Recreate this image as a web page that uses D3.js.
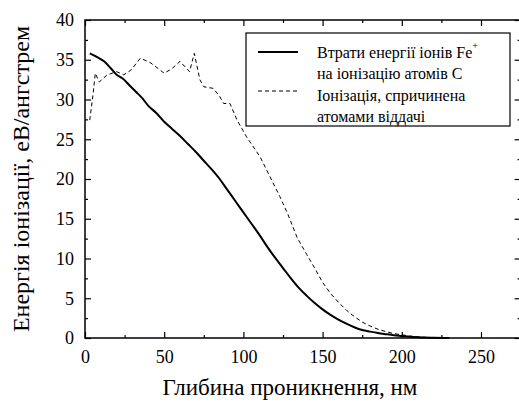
<!DOCTYPE html>
<html>
<head>
<meta charset="utf-8">
<script src="https://cdn.jsdelivr.net/npm/d3@7"></script>
<style>
  html, body { margin: 0; padding: 0; background: #fff; }
  svg { display: block; }
</style>
</head>
<body>
<svg id="chart" width="519" height="403" font-family="Liberation Serif, Times New Roman, DejaVu Serif, serif"></svg>
<script>
// Ionization energy loss vs. penetration depth (nm), eV/Å
const depthIon = [3, 8, 12, 16, 20, 24, 28, 32, 36, 40, 45, 50, 55, 60, 65, 70, 75, 80, 85, 90, 95, 100, 105, 110, 115, 120, 125, 130, 135, 140, 145, 150, 155, 160, 165, 170, 175, 180, 185, 190, 195, 200, 205, 210, 220, 230];
const energyIon = [35.8, 35.3, 34.8, 34.0, 33.1, 32.6, 31.8, 31.0, 30.2, 29.2, 28.3, 27.2, 26.3, 25.4, 24.4, 23.4, 22.3, 21.2, 20.0, 18.6, 17.2, 15.8, 14.4, 13.0, 11.5, 10.1, 8.8, 7.5, 6.3, 5.3, 4.4, 3.6, 2.9, 2.3, 1.8, 1.35, 1.0, 0.8, 0.62, 0.48, 0.35, 0.25, 0.15, 0.08, 0.02, 0.0];

const depthRecoil = [3, 5, 6.5, 9, 14, 20, 24.5, 29, 35, 41.5, 50, 55, 60, 66, 69, 72.5, 75, 81, 85, 87.5, 91.5, 96, 102, 110.5, 116, 123, 128, 134, 140, 145, 150, 155, 160, 165, 170, 175, 180, 185, 190, 195, 200, 205, 210, 215, 220, 230];
const energyRecoil = [27.4, 30.5, 33.3, 32.2, 33.1, 33.5, 33.1, 33.7, 35.2, 34.6, 33.3, 33.9, 34.8, 33.5, 35.8, 32.5, 31.6, 31.4, 30.4, 29.5, 29.5, 27.4, 25.3, 22.8, 20.6, 17.8, 15.6, 12.6, 10.5, 8.8, 7.0, 5.6, 4.5, 3.5, 2.7, 2.0, 1.5, 1.1, 0.8, 0.55, 0.4, 0.25, 0.15, 0.08, 0.03, 0.0];

const xTicks = [0, 50, 100, 150, 200, 250];
const yTicks = [0, 5, 10, 15, 20, 25, 30, 35, 40];

const legendLabels = [
  ["Втрати енергії іонів Fe", "на іонізацію атомів С"],
  ["Іонізація, спричинена", "атомами віддачі"]
];
const xTitle = "Глибина проникнення, нм";
const yTitle = "Енергія іонізації, еВ/ангстрем";

const SERIF = "Liberation Serif, Times New Roman, DejaVu Serif, serif";

const svg = d3.select("#chart");
const x = d3.scaleLinear().domain([0, 275]).range([85, 520.6]);
const y = d3.scaleLinear().domain([0, 40]).range([338, 20]);

const xMinor = d3.range(25, 275, 50);
const yMinor = d3.range(2.5, 40, 5);

// frame
svg.append("rect")
  .attr("x", x(0)).attr("y", y(40))
  .attr("width", x(275) - x(0)).attr("height", y(0) - y(40))
  .attr("fill", "none").attr("stroke", "#000").attr("stroke-width", 1.5);

function tickAxis(gen, transform, ticks, size) {
  const g = svg.append("g").attr("transform", transform)
    .call(gen.tickValues(ticks).tickSize(size).tickFormat(""));
  g.select(".domain").remove();
  g.selectAll("line").attr("stroke", "#000").attr("stroke-width", 1.2);
  return g;
}

function styleLabels(g) {
  g.attr("font-family", SERIF).attr("font-size", 18);
  g.select(".domain").remove();
  g.selectAll("line").attr("stroke", "#000").attr("stroke-width", 1.2);
  g.selectAll("text").attr("font-family", SERIF).attr("font-size", 18).attr("fill", "#000");
}

// bottom axis, ticks inward
const bottom = svg.append("g").attr("transform", `translate(0,${y(0)})`)
  .call(d3.axisBottom(x).tickValues(xTicks).tickSize(-6).tickPadding(12).tickFormat(d3.format("d")));
styleLabels(bottom);
tickAxis(d3.axisBottom(x), `translate(0,${y(0)})`, xMinor, -3);

// left axis, ticks inward
const left = svg.append("g").attr("transform", `translate(${x(0)},0)`)
  .call(d3.axisLeft(y).tickValues(yTicks).tickSize(-6).tickPadding(11).tickFormat(d3.format("d")));
styleLabels(left);
tickAxis(d3.axisLeft(y), `translate(${x(0)},0)`, yMinor, -3);

// top and right axes, ticks only
tickAxis(d3.axisTop(x), `translate(0,${y(40)})`, xTicks, -6);
tickAxis(d3.axisTop(x), `translate(0,${y(40)})`, xMinor, -3);
tickAxis(d3.axisRight(y), `translate(${x(275)},0)`, yTicks, -6);
tickAxis(d3.axisRight(y), `translate(${x(275)},0)`, yMinor, -3);

// curves
const jagged = d3.line().x(d => x(d[0])).y(d => y(d[1]));
const smooth = d3.line().curve(d3.curveMonotoneX).x(d => x(d[0])).y(d => y(d[1]));
svg.append("path")
  .datum(d3.zip(depthRecoil, energyRecoil))
  .attr("d", jagged).attr("fill", "none").attr("stroke", "#000")
  .attr("stroke-width", 1).attr("stroke-dasharray", "4,3");
svg.append("path")
  .datum(d3.zip(depthIon, energyIon))
  .attr("d", smooth).attr("fill", "none").attr("stroke", "#000")
  .attr("stroke-width", 2);

// axis titles
svg.append("text")
  .attr("x", 290).attr("y", 395).attr("text-anchor", "middle")
  .attr("font-family", SERIF).attr("font-size", 23).text(xTitle);
svg.append("text")
  .attr("transform", `translate(29,${(y(0) + y(40)) / 2}) rotate(-90)`)
  .attr("text-anchor", "middle").attr("font-family", SERIF).attr("font-size", 24).text(yTitle);

// legend
const lg = svg.append("g");
lg.append("rect").attr("x", 246).attr("y", 33).attr("width", 264).attr("height", 93)
  .attr("fill", "#fff").attr("stroke", "#000").attr("stroke-width", 1.2);
lg.append("line").attr("x1", 258).attr("x2", 298).attr("y1", 52).attr("y2", 52)
  .attr("stroke", "#000").attr("stroke-width", 2);
lg.append("line").attr("x1", 258).attr("x2", 298).attr("y1", 91).attr("y2", 91)
  .attr("stroke", "#000").attr("stroke-width", 1).attr("stroke-dasharray", "4,3");
const rows = [legendLabels[0][0], legendLabels[0][1], legendLabels[1][0], legendLabels[1][1]];
rows.forEach((t, i) => {
  const tx = lg.append("text").attr("x", 317).attr("y", 57.5 + i * 21.5)
    .attr("font-family", SERIF).attr("font-size", 16).text(t);
  if (i === 0) tx.append("tspan").attr("font-size", 10).attr("dy", -9).text("+");
});
</script>
</body>
</html>
